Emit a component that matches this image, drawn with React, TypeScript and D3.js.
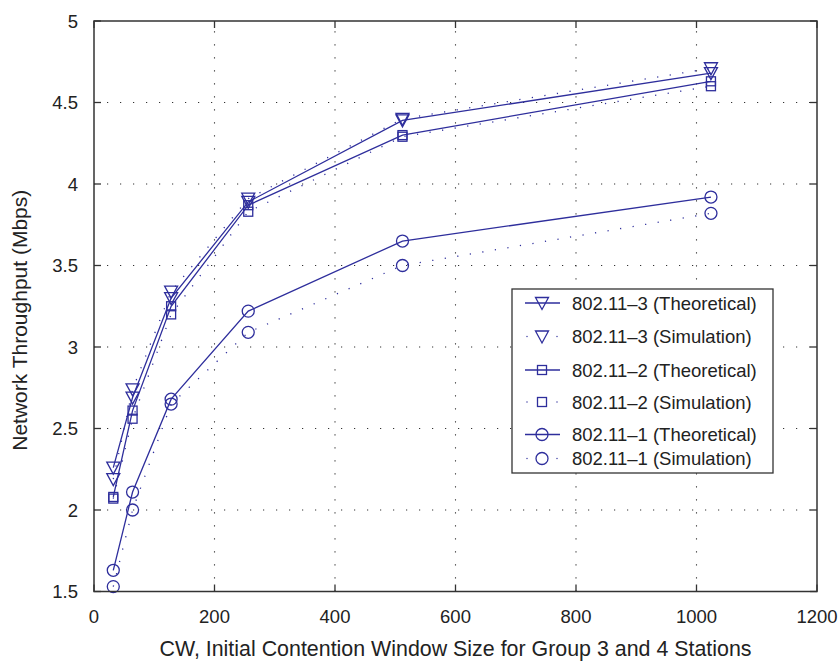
import React from 'react';
import * as d3 from 'd3';

const cwValues = [32, 64, 128, 256, 512, 1024];
const theo3 = [2.26, 2.69, 3.30, 3.89, 4.39, 4.68];
const sim3 = [2.19, 2.74, 3.34, 3.91, 4.40, 4.71];
const theo2 = [2.08, 2.61, 3.25, 3.87, 4.30, 4.63];
const sim2 = [2.07, 2.56, 3.20, 3.83, 4.29, 4.60];
const theo1 = [1.63, 2.11, 2.68, 3.22, 3.65, 3.92];
const sim1 = [1.53, 2.00, 2.65, 3.09, 3.50, 3.82];

const xTicks = [0, 200, 400, 600, 800, 1000, 1200];
const yTicks = [1.5, 2, 2.5, 3, 3.5, 4, 4.5, 5];
const xLabel = 'CW, Initial Contention Window Size for Group 3 and 4 Stations';
const yLabel = 'Network Throughput (Mbps)';

type Marker = 'tri' | 'sq' | 'circ';
const seriesList: { name: string; values: number[]; marker: Marker; dotted: boolean }[] = [
  { name: '802.11\u20133 (Theoretical)', values: theo3, marker: 'tri', dotted: false },
  { name: '802.11\u20133 (Simulation)', values: sim3, marker: 'tri', dotted: true },
  { name: '802.11\u20132 (Theoretical)', values: theo2, marker: 'sq', dotted: false },
  { name: '802.11\u20132 (Simulation)', values: sim2, marker: 'sq', dotted: true },
  { name: '802.11\u20131 (Theoretical)', values: theo1, marker: 'circ', dotted: false },
  { name: '802.11\u20131 (Simulation)', values: sim1, marker: 'circ', dotted: true },
];

const W = 840, H = 661;
const L = 94, R = 817, T = 21, B = 591.5;
const COLOR = '#2e2e9c';
const FONT = 'Liberation Sans, Arial, Helvetica, sans-serif';
const FS = 18.5;
const FS_LABEL = 21.4;

function MarkerShape({ kind, cx, cy }: { kind: Marker; cx: number; cy: number }) {
  const sw = 1.3;
  if (kind === 'tri') {
    const p = `${cx - 6.5},${cy - 5.5} ${cx + 6.5},${cy - 5.5} ${cx},${cy + 6.5}`;
    return <polygon points={p} fill="none" stroke={COLOR} strokeWidth={sw} />;
  }
  if (kind === 'sq') {
    return <rect x={cx - 4.5} y={cy - 4.5} width={9} height={9} fill="none" stroke={COLOR} strokeWidth={sw} />;
  }
  return <circle cx={cx} cy={cy} r={6} fill="none" stroke={COLOR} strokeWidth={sw} />;
}

export default function App() {
  const x = d3.scaleLinear().domain([0, 1200]).range([L, R]);
  const y = d3.scaleLinear().domain([1.5, 5]).range([B, T]);
  const line = d3.line<[number, number]>().x((d) => x(d[0])).y((d) => y(d[1]));

  const legendX = 512, legendY = 289, legendW = 261, legendH = 184;
  const legendRows = [303, 336.5, 370, 402, 434.5, 458.5];

  return (
    <div style={{ position: 'absolute', left: 0, top: 0 }}>
      <svg width={W} height={H} style={{ display: 'block', background: '#fff' }}>
        {/* grid */}
        {xTicks.filter((t) => t > 0 && t < 1200).map((t) => (
          <line key={'gx' + t} x1={x(t)} x2={x(t)} y1={B} y2={T} stroke="#333" strokeWidth={1.1}
            strokeDasharray="1.2,11.8" />
        ))}
        {yTicks.filter((t) => t > 1.5 && t < 5).map((t) => (
          <line key={'gy' + t} x1={L} x2={R} y1={y(t)} y2={y(t)} stroke="#333" strokeWidth={1.1}
            strokeDasharray="1.2,11.8" />
        ))}
        {/* ticks */}
        {xTicks.map((t) => (
          <g key={'tx' + t}>
            <line x1={x(t)} x2={x(t)} y1={B} y2={B - 7} stroke="#333" strokeWidth={1.3} />
            <line x1={x(t)} x2={x(t)} y1={T} y2={T + 7} stroke="#333" strokeWidth={1.3} />
            <text x={x(t)} y={B + 31} textAnchor="middle" fontFamily={FONT} fontSize={FS} fill="#222">{t}</text>
          </g>
        ))}
        {yTicks.map((t) => (
          <g key={'ty' + t}>
            <line x1={L} x2={L + 7} y1={y(t)} y2={y(t)} stroke="#333" strokeWidth={1.3} />
            <line x1={R} x2={R - 7} y1={y(t)} y2={y(t)} stroke="#333" strokeWidth={1.3} />
            <text x={L - 16} y={y(t) + 6.5} textAnchor="end" fontFamily={FONT} fontSize={FS} fill="#222">{t}</text>
          </g>
        ))}
        {/* series */}
        {seriesList.map((s, i) => {
          const pts: [number, number][] = cwValues.map((c, j) => [c, s.values[j]]);
          return (
            <g key={'s' + i}>
              <path d={line(pts) || ''} fill="none" stroke={COLOR} strokeWidth={1.3}
                strokeDasharray={s.dotted ? '1.2,11.5' : undefined} />
              {pts.map((p, j) => (
                <MarkerShape key={j} kind={s.marker} cx={x(p[0])} cy={y(p[1])} />
              ))}
            </g>
          );
        })}
        {/* axes box */}
        <rect x={L} y={T} width={R - L} height={B - T} fill="none" stroke="#333" strokeWidth={1.5} />
        {/* legend */}
        <rect x={legendX} y={legendY} width={legendW} height={legendH} fill="#fff" stroke="#333" strokeWidth={1.3} />
        {seriesList.map((s, i) => {
          const ry = legendRows[i];
          return (
            <g key={'lg' + i}>
              {s.dotted ? (
                <>
                  <circle cx={527} cy={ry} r={0.7} fill={COLOR} />
                  <circle cx={557} cy={ry} r={0.7} fill={COLOR} />
                </>
              ) : (
                <line x1={525} x2={560} y1={ry} y2={ry} stroke={COLOR} strokeWidth={1.3} />
              )}
              <MarkerShape kind={s.marker} cx={542} cy={ry} />
              <text x={572} y={ry + 6.5} fontFamily={FONT} fontSize={FS} fill="#222">{s.name}</text>
            </g>
          );
        })}
        {/* axis labels */}
        <text x={(L + R) / 2} y={656} textAnchor="middle" fontFamily={FONT} fontSize={FS_LABEL} fill="#222">{xLabel}</text>
        <text transform={`translate(27,${(T + B) / 2 + 14}) rotate(-90)`} textAnchor="middle" fontFamily={FONT}
          fontSize={FS_LABEL - 0.4} fill="#222">{yLabel}</text>
      </svg>
    </div>
  );
}
